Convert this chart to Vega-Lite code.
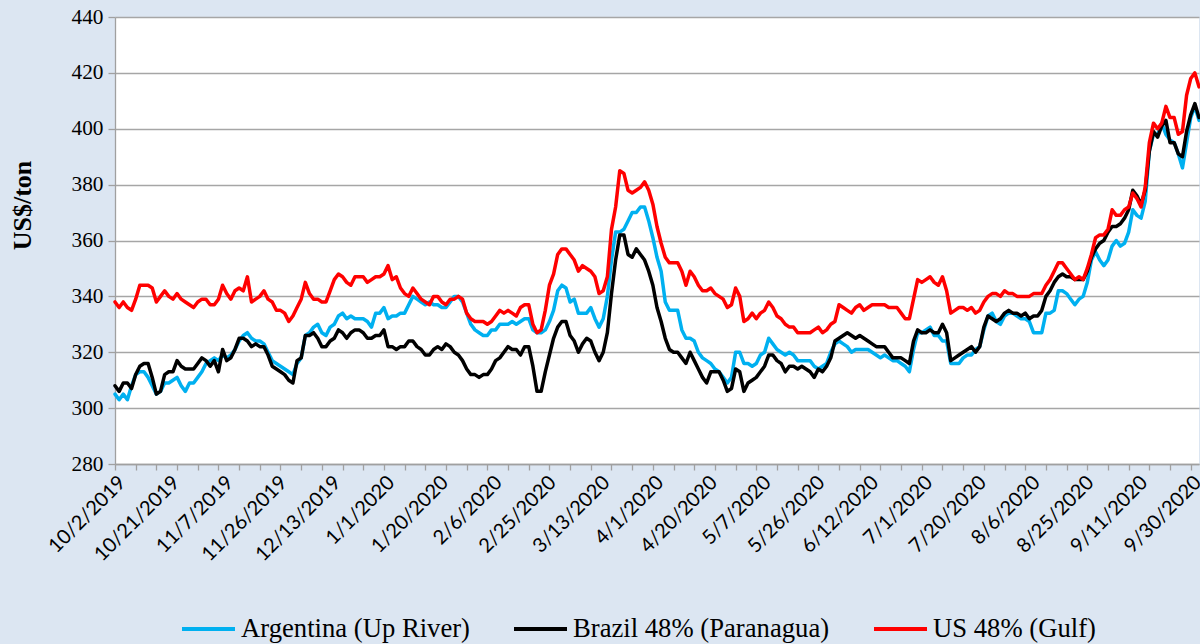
{
"$schema":"https://vega.github.io/schema/vega-lite/v6.json",
"width":1084,"height":447,"autosize":"none",
"padding":{"left":115,"top":17,"right":1,"bottom":180},
"background":"#DCE6F2",
"config":{"view":{"stroke":null,"fill":"white"}},
"data":{"values":[
{"d":"10/2/2019","a":305,"b":308,"u":338},
{"d":"10/3/2019","a":303,"b":306,"u":336},
{"d":"10/4/2019","a":305,"b":309,"u":338},
{"d":"10/7/2019","a":303,"b":309,"u":336},
{"d":"10/8/2019","a":308,"b":307,"u":335},
{"d":"10/9/2019","a":312,"b":312,"u":339},
{"d":"10/10/2019","a":313,"b":315,"u":344},
{"d":"10/11/2019","a":313,"b":316,"u":344},
{"d":"10/14/2019","a":311,"b":316,"u":344},
{"d":"10/15/2019","a":308,"b":311,"u":343},
{"d":"10/16/2019","a":305,"b":305,"u":338},
{"d":"10/17/2019","a":306,"b":306,"u":340},
{"d":"10/18/2019","a":309,"b":312,"u":342},
{"d":"10/21/2019","a":309,"b":313,"u":340},
{"d":"10/22/2019","a":310,"b":313,"u":339},
{"d":"10/23/2019","a":311,"b":317,"u":341},
{"d":"10/24/2019","a":308,"b":315,"u":339},
{"d":"10/25/2019","a":306,"b":314,"u":338},
{"d":"10/28/2019","a":309,"b":314,"u":337},
{"d":"10/29/2019","a":309,"b":314,"u":336},
{"d":"10/30/2019","a":311,"b":316,"u":338},
{"d":"10/31/2019","a":313,"b":318,"u":339},
{"d":"11/1/2019","a":316,"b":317,"u":339},
{"d":"11/4/2019","a":317,"b":315,"u":337},
{"d":"11/5/2019","a":318,"b":317,"u":337},
{"d":"11/6/2019","a":317,"b":313,"u":339},
{"d":"11/7/2019","a":319,"b":321,"u":344},
{"d":"11/8/2019","a":318,"b":317,"u":341},
{"d":"11/11/2019","a":319,"b":318,"u":339},
{"d":"11/12/2019","a":321,"b":321,"u":342},
{"d":"11/13/2019","a":324,"b":325,"u":343},
{"d":"11/14/2019","a":326,"b":325,"u":342},
{"d":"11/15/2019","a":327,"b":324,"u":347},
{"d":"11/18/2019","a":325,"b":322,"u":338},
{"d":"11/19/2019","a":324,"b":323,"u":339},
{"d":"11/20/2019","a":324,"b":322,"u":340},
{"d":"11/21/2019","a":323,"b":322,"u":342},
{"d":"11/22/2019","a":320,"b":319,"u":339},
{"d":"11/25/2019","a":317,"b":315,"u":338},
{"d":"11/26/2019","a":316,"b":314,"u":335},
{"d":"11/27/2019","a":315,"b":313,"u":335},
{"d":"11/28/2019","a":314,"b":312,"u":334},
{"d":"11/29/2019","a":313,"b":310,"u":331},
{"d":"12/2/2019","a":312,"b":309,"u":333},
{"d":"12/3/2019","a":316,"b":317,"u":336},
{"d":"12/4/2019","a":318,"b":318,"u":339},
{"d":"12/5/2019","a":326,"b":326,"u":345},
{"d":"12/6/2019","a":327,"b":326,"u":341},
{"d":"12/9/2019","a":329,"b":327,"u":339},
{"d":"12/10/2019","a":330,"b":325,"u":339},
{"d":"12/11/2019","a":327,"b":322,"u":338},
{"d":"12/12/2019","a":326,"b":322,"u":338},
{"d":"12/13/2019","a":329,"b":324,"u":342},
{"d":"12/16/2019","a":330,"b":325,"u":346},
{"d":"12/17/2019","a":333,"b":328,"u":348},
{"d":"12/18/2019","a":334,"b":327,"u":347},
{"d":"12/19/2019","a":332,"b":325,"u":345},
{"d":"12/20/2019","a":333,"b":327,"u":344},
{"d":"12/23/2019","a":332,"b":328,"u":347},
{"d":"12/24/2019","a":332,"b":328,"u":347},
{"d":"12/25/2019","a":332,"b":327,"u":347},
{"d":"12/26/2019","a":331,"b":325,"u":345},
{"d":"12/27/2019","a":329,"b":325,"u":346},
{"d":"12/30/2019","a":334,"b":326,"u":347},
{"d":"12/31/2019","a":334,"b":326,"u":347},
{"d":"1/1/2020","a":336,"b":328,"u":348},
{"d":"1/2/2020","a":332,"b":322,"u":351},
{"d":"1/3/2020","a":333,"b":322,"u":346},
{"d":"1/6/2020","a":333,"b":321,"u":347},
{"d":"1/7/2020","a":334,"b":322,"u":343},
{"d":"1/8/2020","a":334,"b":322,"u":341},
{"d":"1/9/2020","a":337,"b":324,"u":340},
{"d":"1/10/2020","a":340,"b":324,"u":343},
{"d":"1/13/2020","a":339,"b":322,"u":341},
{"d":"1/14/2020","a":338,"b":321,"u":339},
{"d":"1/15/2020","a":337,"b":319,"u":338},
{"d":"1/16/2020","a":338,"b":319,"u":337},
{"d":"1/17/2020","a":337,"b":321,"u":340},
{"d":"1/20/2020","a":337,"b":322,"u":340},
{"d":"1/21/2020","a":336,"b":321,"u":338},
{"d":"1/22/2020","a":336,"b":323,"u":337},
{"d":"1/23/2020","a":338,"b":322,"u":339},
{"d":"1/24/2020","a":340,"b":320,"u":339},
{"d":"1/27/2020","a":340,"b":319,"u":340},
{"d":"1/28/2020","a":338,"b":317,"u":339},
{"d":"1/29/2020","a":334,"b":314,"u":334},
{"d":"1/30/2020","a":330,"b":312,"u":332},
{"d":"1/31/2020","a":328,"b":312,"u":331},
{"d":"2/3/2020","a":327,"b":311,"u":331},
{"d":"2/4/2020","a":326,"b":312,"u":331},
{"d":"2/5/2020","a":326,"b":312,"u":330},
{"d":"2/6/2020","a":328,"b":314,"u":331},
{"d":"2/7/2020","a":328,"b":317,"u":333},
{"d":"2/10/2020","a":330,"b":318,"u":335},
{"d":"2/11/2020","a":330,"b":320,"u":334},
{"d":"2/12/2020","a":330,"b":322,"u":335},
{"d":"2/13/2020","a":331,"b":321,"u":334},
{"d":"2/14/2020","a":330,"b":321,"u":333},
{"d":"2/17/2020","a":331,"b":319,"u":336},
{"d":"2/18/2020","a":332,"b":322,"u":337},
{"d":"2/19/2020","a":332,"b":322,"u":337},
{"d":"2/20/2020","a":328,"b":315,"u":330},
{"d":"2/21/2020","a":327,"b":306,"u":327},
{"d":"2/24/2020","a":327,"b":306,"u":328},
{"d":"2/25/2020","a":328,"b":313,"u":335},
{"d":"2/26/2020","a":331,"b":319,"u":344},
{"d":"2/27/2020","a":335,"b":325,"u":348},
{"d":"2/28/2020","a":342,"b":329,"u":355},
{"d":"3/2/2020","a":344,"b":331,"u":357},
{"d":"3/3/2020","a":343,"b":331,"u":357},
{"d":"3/4/2020","a":338,"b":326,"u":355},
{"d":"3/5/2020","a":339,"b":324,"u":353},
{"d":"3/6/2020","a":334,"b":320,"u":349},
{"d":"3/9/2020","a":334,"b":323,"u":351},
{"d":"3/10/2020","a":334,"b":325,"u":350},
{"d":"3/11/2020","a":336,"b":324,"u":349},
{"d":"3/12/2020","a":332,"b":320,"u":347},
{"d":"3/13/2020","a":329,"b":317,"u":341},
{"d":"3/16/2020","a":332,"b":320,"u":342},
{"d":"3/17/2020","a":340,"b":327,"u":347},
{"d":"3/18/2020","a":353,"b":341,"u":364},
{"d":"3/19/2020","a":363,"b":353,"u":372},
{"d":"3/20/2020","a":363,"b":362,"u":385},
{"d":"3/23/2020","a":364,"b":362,"u":384},
{"d":"3/24/2020","a":367,"b":355,"u":378},
{"d":"3/25/2020","a":370,"b":354,"u":377},
{"d":"3/26/2020","a":370,"b":357,"u":378},
{"d":"3/27/2020","a":372,"b":355,"u":379},
{"d":"3/30/2020","a":372,"b":353,"u":381},
{"d":"3/31/2020","a":367,"b":349,"u":378},
{"d":"4/1/2020","a":361,"b":344,"u":373},
{"d":"4/2/2020","a":354,"b":336,"u":365},
{"d":"4/3/2020","a":349,"b":331,"u":359},
{"d":"4/6/2020","a":338,"b":325,"u":354},
{"d":"4/7/2020","a":335,"b":321,"u":352},
{"d":"4/8/2020","a":335,"b":320,"u":352},
{"d":"4/9/2020","a":335,"b":320,"u":352},
{"d":"4/10/2020","a":328,"b":318,"u":349},
{"d":"4/13/2020","a":325,"b":316,"u":344},
{"d":"4/14/2020","a":325,"b":320,"u":349},
{"d":"4/15/2020","a":324,"b":317,"u":347},
{"d":"4/16/2020","a":320,"b":314,"u":344},
{"d":"4/17/2020","a":318,"b":311,"u":342},
{"d":"4/20/2020","a":317,"b":309,"u":342},
{"d":"4/21/2020","a":316,"b":313,"u":343},
{"d":"4/22/2020","a":314,"b":313,"u":341},
{"d":"4/23/2020","a":313,"b":313,"u":340},
{"d":"4/24/2020","a":311,"b":310,"u":339},
{"d":"4/27/2020","a":309,"b":306,"u":336},
{"d":"4/28/2020","a":311,"b":307,"u":337},
{"d":"4/29/2020","a":320,"b":314,"u":343},
{"d":"4/30/2020","a":320,"b":313,"u":340},
{"d":"5/1/2020","a":316,"b":306,"u":331},
{"d":"5/4/2020","a":316,"b":309,"u":332},
{"d":"5/5/2020","a":315,"b":310,"u":334},
{"d":"5/6/2020","a":316,"b":311,"u":332},
{"d":"5/7/2020","a":319,"b":313,"u":334},
{"d":"5/8/2020","a":320,"b":315,"u":335},
{"d":"5/11/2020","a":325,"b":319,"u":338},
{"d":"5/12/2020","a":323,"b":319,"u":336},
{"d":"5/13/2020","a":321,"b":317,"u":333},
{"d":"5/14/2020","a":320,"b":316,"u":332},
{"d":"5/15/2020","a":319,"b":313,"u":330},
{"d":"5/18/2020","a":320,"b":315,"u":329},
{"d":"5/19/2020","a":319,"b":315,"u":329},
{"d":"5/20/2020","a":317,"b":314,"u":327},
{"d":"5/21/2020","a":317,"b":315,"u":327},
{"d":"5/22/2020","a":317,"b":314,"u":327},
{"d":"5/25/2020","a":317,"b":313,"u":327},
{"d":"5/26/2020","a":315,"b":311,"u":328},
{"d":"5/27/2020","a":314,"b":314,"u":329},
{"d":"5/28/2020","a":315,"b":313,"u":327},
{"d":"5/29/2020","a":316,"b":315,"u":328},
{"d":"6/1/2020","a":320,"b":318,"u":330},
{"d":"6/2/2020","a":323,"b":324,"u":331},
{"d":"6/3/2020","a":324,"b":325,"u":337},
{"d":"6/4/2020","a":323,"b":326,"u":336},
{"d":"6/5/2020","a":322,"b":327,"u":335},
{"d":"6/8/2020","a":320,"b":326,"u":334},
{"d":"6/9/2020","a":321,"b":325,"u":336},
{"d":"6/10/2020","a":321,"b":326,"u":337},
{"d":"6/11/2020","a":321,"b":325,"u":335},
{"d":"6/12/2020","a":321,"b":324,"u":336},
{"d":"6/15/2020","a":320,"b":323,"u":337},
{"d":"6/16/2020","a":319,"b":322,"u":337},
{"d":"6/17/2020","a":318,"b":322,"u":337},
{"d":"6/18/2020","a":319,"b":322,"u":337},
{"d":"6/19/2020","a":318,"b":320,"u":336},
{"d":"6/22/2020","a":317,"b":318,"u":336},
{"d":"6/23/2020","a":317,"b":318,"u":336},
{"d":"6/24/2020","a":316,"b":318,"u":334},
{"d":"6/25/2020","a":315,"b":317,"u":332},
{"d":"6/26/2020","a":313,"b":316,"u":332},
{"d":"6/29/2020","a":321,"b":324,"u":339},
{"d":"6/30/2020","a":327,"b":328,"u":346},
{"d":"7/1/2020","a":327,"b":327,"u":345},
{"d":"7/2/2020","a":328,"b":327,"u":346},
{"d":"7/3/2020","a":329,"b":328,"u":347},
{"d":"7/6/2020","a":326,"b":327,"u":345},
{"d":"7/7/2020","a":326,"b":327,"u":344},
{"d":"7/8/2020","a":324,"b":330,"u":347},
{"d":"7/9/2020","a":324,"b":327,"u":342},
{"d":"7/10/2020","a":316,"b":317,"u":334},
{"d":"7/13/2020","a":316,"b":318,"u":335},
{"d":"7/14/2020","a":316,"b":319,"u":336},
{"d":"7/15/2020","a":318,"b":320,"u":336},
{"d":"7/16/2020","a":319,"b":321,"u":335},
{"d":"7/17/2020","a":319,"b":322,"u":336},
{"d":"7/20/2020","a":321,"b":320,"u":334},
{"d":"7/21/2020","a":322,"b":322,"u":335},
{"d":"7/22/2020","a":328,"b":329,"u":338},
{"d":"7/23/2020","a":333,"b":333,"u":340},
{"d":"7/24/2020","a":334,"b":332,"u":341},
{"d":"7/27/2020","a":331,"b":331,"u":341},
{"d":"7/28/2020","a":330,"b":332,"u":340},
{"d":"7/29/2020","a":333,"b":334,"u":342},
{"d":"7/30/2020","a":334,"b":335,"u":341},
{"d":"7/31/2020","a":334,"b":334,"u":341},
{"d":"8/3/2020","a":333,"b":334,"u":340},
{"d":"8/4/2020","a":332,"b":333,"u":340},
{"d":"8/5/2020","a":332,"b":334,"u":340},
{"d":"8/6/2020","a":331,"b":332,"u":340},
{"d":"8/7/2020","a":327,"b":333,"u":341},
{"d":"8/10/2020","a":327,"b":333,"u":341},
{"d":"8/11/2020","a":327,"b":335,"u":341},
{"d":"8/12/2020","a":334,"b":340,"u":344},
{"d":"8/13/2020","a":334,"b":342,"u":346},
{"d":"8/14/2020","a":335,"b":345,"u":349},
{"d":"8/17/2020","a":342,"b":347,"u":352},
{"d":"8/18/2020","a":342,"b":348,"u":352},
{"d":"8/19/2020","a":341,"b":347,"u":350},
{"d":"8/20/2020","a":339,"b":347,"u":348},
{"d":"8/21/2020","a":337,"b":346,"u":346},
{"d":"8/24/2020","a":339,"b":346,"u":347},
{"d":"8/25/2020","a":340,"b":346,"u":346},
{"d":"8/26/2020","a":345,"b":349,"u":350},
{"d":"8/27/2020","a":353,"b":354,"u":355},
{"d":"8/28/2020","a":356,"b":357,"u":361},
{"d":"8/31/2020","a":353,"b":359,"u":362},
{"d":"9/1/2020","a":351,"b":360,"u":362},
{"d":"9/2/2020","a":353,"b":363,"u":364},
{"d":"9/3/2020","a":358,"b":365,"u":371},
{"d":"9/4/2020","a":360,"b":365,"u":369},
{"d":"9/7/2020","a":358,"b":366,"u":369},
{"d":"9/8/2020","a":359,"b":368,"u":371},
{"d":"9/9/2020","a":363,"b":371,"u":372},
{"d":"9/10/2020","a":371,"b":378,"u":377},
{"d":"9/11/2020","a":369,"b":376,"u":375},
{"d":"9/14/2020","a":368,"b":373,"u":372},
{"d":"9/15/2020","a":374,"b":378,"u":379},
{"d":"9/16/2020","a":392,"b":392,"u":395},
{"d":"9/17/2020","a":398,"b":399,"u":402},
{"d":"9/18/2020","a":398,"b":397,"u":400},
{"d":"9/21/2020","a":402,"b":401,"u":402},
{"d":"9/22/2020","a":398,"b":403,"u":408},
{"d":"9/23/2020","a":396,"b":395,"u":404},
{"d":"9/24/2020","a":395,"b":395,"u":404},
{"d":"9/25/2020","a":391,"b":391,"u":398},
{"d":"9/28/2020","a":386,"b":390,"u":399},
{"d":"9/29/2020","a":395,"b":399,"u":412},
{"d":"9/30/2020","a":404,"b":405,"u":418},
{"d":"10/1/2020","a":408,"b":409,"u":420},
{"d":"10/2/2020","a":403,"b":404,"u":415}
]},
"transform":[{"fold":["a","b","u"],"as":["s","v"]}],
"mark":{"type":"line","strokeWidth":3.5,"strokeJoin":"round","strokeCap":"round"},
"encoding":{
"x":{"field":"d","type":"ordinal","sort":null,"scale":{"type":"point","padding":0},
"axis":{"title":null,
"values":["10/2/2019","10/9/2019","10/16/2019","10/23/2019","10/30/2019","11/6/2019","11/13/2019","11/20/2019","11/27/2019","12/4/2019","12/11/2019","12/18/2019","12/25/2019","1/1/2020","1/8/2020","1/15/2020","1/22/2020","1/29/2020","2/5/2020","2/12/2020","2/19/2020","2/26/2020","3/4/2020","3/11/2020","3/18/2020","3/25/2020","4/1/2020","4/8/2020","4/15/2020","4/22/2020","4/29/2020","5/6/2020","5/13/2020","5/20/2020","5/27/2020","6/3/2020","6/10/2020","6/17/2020","6/24/2020","7/1/2020","7/8/2020","7/15/2020","7/22/2020","7/29/2020","8/5/2020","8/12/2020","8/19/2020","8/26/2020","9/2/2020","9/9/2020","9/16/2020","9/23/2020","9/30/2020","10/21/2019","11/7/2019","11/26/2019","12/13/2019","1/20/2020","2/6/2020","2/25/2020","3/13/2020","4/20/2020","5/7/2020","5/26/2020","6/12/2020","7/20/2020","8/6/2020","8/25/2020","9/11/2020"],
"labelExpr":"indexof(['10/2/2019','10/21/2019','11/7/2019','11/26/2019','12/13/2019','1/1/2020','1/20/2020','2/6/2020','2/25/2020','3/13/2020','4/1/2020','4/20/2020','5/7/2020','5/26/2020','6/12/2020','7/1/2020','7/20/2020','8/6/2020','8/25/2020','9/11/2020','9/30/2020'], datum.value) >= 0 ? datum.value : ''",
"tickOpacity":{"condition":{"test":"indexof(['10/21/2019','11/7/2019','11/26/2019','12/13/2019','1/20/2020','2/6/2020','2/25/2020','3/13/2020','4/20/2020','5/7/2020','5/26/2020','6/12/2020','7/20/2020','8/6/2020','8/25/2020','9/11/2020'], datum.value) >= 0","value":0},"value":1},
"labelAngle":-45,"labelAlign":"right","labelBaseline":"top","labelFont":"Lato","labelFontSize":20,"labelColor":"#000000","labelOverlap":false,"labelPadding":2,
"tickColor":"#a0a0a0","tickSize":6,"tickWidth":1.3,"domainColor":"#a0a0a0","domainWidth":1.3,"grid":false}},
"y":{"field":"v","type":"quantitative","scale":{"domain":[280,440],"nice":false,"zero":false},
"axis":{"title":"US$/ton","titleFont":"Liberation Serif","titleFontSize":26,"titleFontWeight":"bold","titleColor":"#000000","titleX":-93,"titleY":188,"titleAngle":-90,"titleAlign":"center","titleBaseline":"middle",
"values":[280,300,320,340,360,380,400,420,440],"labelFont":"Liberation Serif","labelFontSize":21.3,"labelColor":"#000000","labelPadding":5,
"tickColor":"#a0a0a0","tickSize":7,"tickWidth":1.3,"domainColor":"#a0a0a0","domainWidth":1.3,"gridColor":"#a6a6a6","gridWidth":1.3}},
"color":{"field":"s","type":"nominal","scale":{"domain":["a","b","u"],"range":["#00B0F0","#000000","#FF0000"]},
"legend":{"orient":"none","legendX":65,"legendY":583,"direction":"horizontal","title":null,"padding":0,
"symbolType":"stroke","symbolSize":2809,"symbolStrokeWidth":4,"labelFont":"Liberation Serif","labelFontSize":26.67,"labelColor":"#000000","labelLimit":500,"labelOffset":4,"columnPadding":36,
"labelExpr":"datum.value == 'a' ? 'Argentina (Up River)' : datum.value == 'b' ? 'Brazil 48% (Paranagua)' : 'US 48% (Gulf)'"}}
}
}
